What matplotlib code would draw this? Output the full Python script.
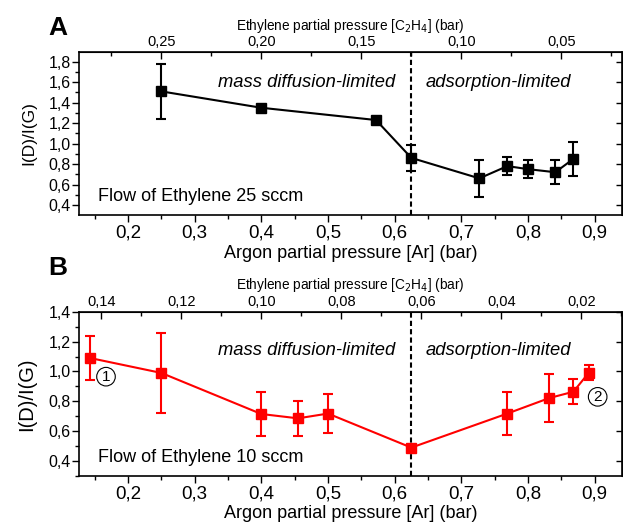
import numpy as np
import matplotlib
matplotlib.use('Agg')
import matplotlib.pyplot as plt
from matplotlib.ticker import MultipleLocator, FixedLocator, FuncFormatter

plt.rcParams['font.family'] = ['Liberation Sans', 'DejaVu Sans']

# panel A: ethylene flow 25 sccm
ar_a = [0.25, 0.40, 0.572, 0.625, 0.727, 0.769, 0.80, 0.841, 0.868]
ratio_a = [1.51, 1.35, 1.23, 0.86, 0.66, 0.78, 0.75, 0.72, 0.85]
err_a = [0.27, 0.0, 0.0, 0.13, 0.18, 0.09, 0.09, 0.115, 0.17]
eth_ticks_a = [0.25, 0.20, 0.15, 0.10, 0.05]

# panel B: ethylene flow 10 sccm
ar_b = [0.143, 0.25, 0.40, 0.455, 0.50, 0.625, 0.769, 0.832, 0.868, 0.891]
ratio_b = [1.09, 0.99, 0.715, 0.686, 0.718, 0.49, 0.718, 0.822, 0.864, 0.99]
err_b = [0.145, 0.27, 0.15, 0.115, 0.133, 0.0, 0.145, 0.16, 0.085, 0.05]
eth_ticks_b = [0.14, 0.12, 0.10, 0.08, 0.06, 0.04, 0.02]

boundary = 0.625


def comma(fmt):
    return FuncFormatter(lambda v, p: format(v, fmt).replace('.', ','))


def panel(rect, ar, ratio, err, color, ylim, scale, eth_ticks, eminor,
          flow, ytext, ylabel_size):
    ax = fig.add_axes(rect)
    ax.errorbar(ar, ratio, yerr=err, fmt='s-', color=color, ms=6.5, lw=1.5,
                elinewidth=1.5, capsize=3.5, capthick=1.5)
    ax.axvline(boundary, color='black', ls=(0, (2.5, 1.5)), lw=1.5)
    ax.set_xlim(0.1265, 0.941)
    ax.set_ylim(*ylim)
    ax.xaxis.set_major_locator(MultipleLocator(0.1))
    ax.xaxis.set_minor_locator(MultipleLocator(0.05))
    ax.yaxis.set_major_locator(MultipleLocator(0.2))
    ax.yaxis.set_minor_locator(MultipleLocator(0.1))
    ax.xaxis.set_major_formatter(comma('.1f'))
    ax.yaxis.set_major_formatter(comma('.1f'))
    ax.tick_params(axis='x', which='major', direction='out', length=5,
                   width=1, labelsize=13.5, pad=2)
    ax.tick_params(axis='x', which='minor', direction='out', length=3, width=1)
    ax.tick_params(axis='y', which='major', direction='out', length=5,
                   width=1, labelsize=11.5, pad=1)
    ax.tick_params(axis='y', which='minor', direction='out', length=3, width=1)
    for s in ax.spines.values():
        s.set_linewidth(1.2)
    ax.set_xlabel('Argon partial pressure [Ar] (bar)', fontsize=13, labelpad=2)
    ax.set_ylabel('I(D)/I(G)', fontsize=ylabel_size, labelpad=9)

    top = ax.secondary_xaxis('top', functions=(lambda x: (1 - x) / scale,
                                               lambda e: 1 - scale * e))
    top.xaxis.set_major_locator(FixedLocator(eth_ticks))
    top.xaxis.set_minor_locator(MultipleLocator(eminor))
    top.xaxis.set_major_formatter(comma('.2f'))
    top.tick_params(which='major', direction='in', length=5, width=1,
                    labelsize=10.5, pad=2)
    top.tick_params(which='minor', direction='in', length=3, width=1)
    top.set_xlabel('Ethylene partial pressure [C$_2$H$_4$] (bar)',
                   fontsize=9.8, labelpad=4)

    right = ax.secondary_yaxis('right')
    right.yaxis.set_major_locator(MultipleLocator(0.2))
    right.yaxis.set_minor_locator(plt.NullLocator())
    right.tick_params(direction='in', length=4, width=1, labelright=False)

    ax.text(0.335, ytext, 'mass diffusion-limited', style='italic',
            fontsize=13.2, va='center')
    ax.text(0.646, ytext, 'adsorption-limited', style='italic',
            fontsize=13.2, va='center')
    ax.text(0.155, ylim[0] + 0.113 * (ylim[1] - ylim[0]),
            'Flow of Ethylene %d sccm' % flow, fontsize=13, va='center')
    return ax


fig = plt.figure(figsize=(6.23, 5.23), dpi=100)

ax_a = panel([0.1268, 0.5889, 0.8716, 0.3117], ar_a, ratio_a, err_a, 'black',
             (0.302, 1.895), 3, eth_ticks_a, 0.025, 25, 1.60, 12.5)
ax_b = panel([0.1268, 0.0899, 0.8716, 0.3141], ar_b, ratio_b, err_b, 'red',
             (0.30, 1.40), 6, eth_ticks_b, 0.01, 10, 1.143, 14.5)

# numbered samples in panel B
circle = dict(boxstyle='circle,pad=0.15', fc='white', ec='black', lw=0.8)
ax_b.text(0.167, 0.965, '1', fontsize=11, ha='center', va='center', bbox=circle)
ax_b.text(0.9045, 0.83, '2', fontsize=11, ha='center', va='center', bbox=circle)

fig.text(0.093, 0.946, 'A', fontsize=19, fontweight='bold', ha='center', va='center')
fig.text(0.093, 0.487, 'B', fontsize=19, fontweight='bold', ha='center', va='center')

fig.savefig('out.png', dpi=100)
